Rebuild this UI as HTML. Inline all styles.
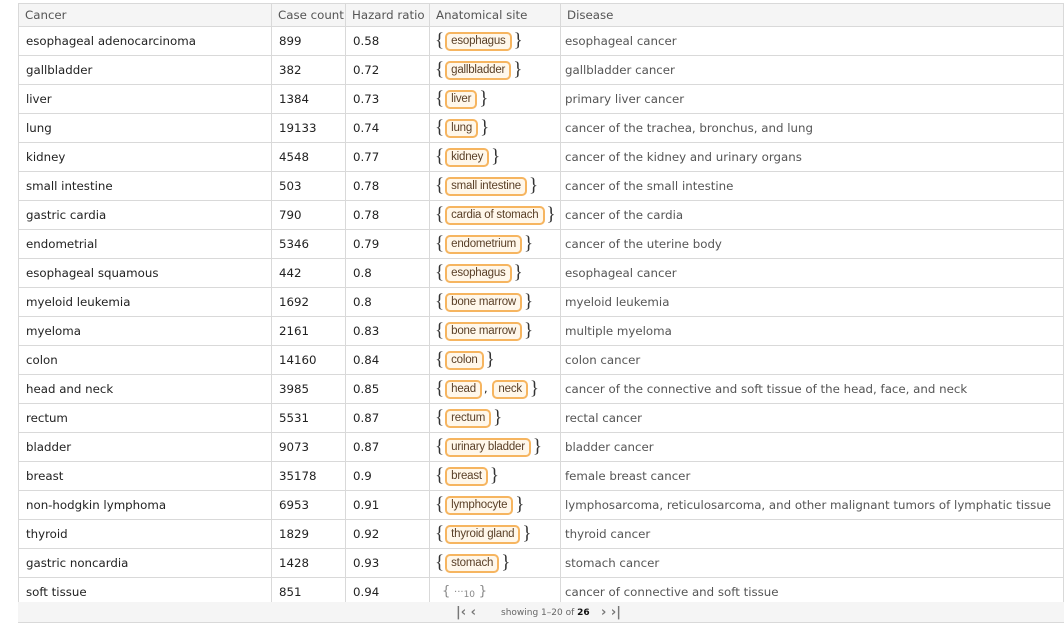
<!DOCTYPE html>
<html><head><meta charset="utf-8"><style>
body{margin:0;width:1064px;height:641px;background:#fff;font-family:"DejaVu Sans","Liberation Sans",sans-serif;overflow:hidden}
table{position:absolute;left:18px;top:3px;border-collapse:collapse;width:1046px;table-layout:fixed}
td,th{border:1px solid #d9d9d9;font-size:11.8px;color:#222;text-align:left;padding:0 0 0 7px;height:28px;white-space:nowrap;overflow:hidden}
th{background:#f5f5f5;color:#555;font-weight:normal;height:22px;padding-left:6px}
td.d{color:#555;padding-left:4px}
td.s{padding-left:5px}
.b{font-size:19px;color:#333;font-family:"Liberation Serif",serif;vertical-align:-2px}
.c{display:inline-block;border:2px solid #f6b560;background:#fff7ea;border-radius:5px;font-family:"Liberation Sans",sans-serif;font-size:11.5px;letter-spacing:-0.2px;color:#5a4028;padding:0 4px;line-height:15px;margin:0 2px 0 1px}
.foot{position:absolute;left:18px;top:602px;width:1046px;height:20px;background:#f5f5f5;border-bottom:1px solid #d9d9d9;font-size:9px;color:#666}
</style></head><body>
<table>
<colgroup><col style="width:253px"><col style="width:74px"><col style="width:84px"><col style="width:131px"><col></colgroup>
<tr><th>Cancer</th><th>Case count</th><th>Hazard ratio</th><th>Anatomical site</th><th>Disease</th></tr>
<tr><td>esophageal adenocarcinoma</td><td>899</td><td>0.58</td><td class="s"><span class="b">{</span><span class="c">esophagus</span><span class="b">}</span></td><td class="d">esophageal cancer</td></tr>
<tr><td>gallbladder</td><td>382</td><td>0.72</td><td class="s"><span class="b">{</span><span class="c">gallbladder</span><span class="b">}</span></td><td class="d">gallbladder cancer</td></tr>
<tr><td>liver</td><td>1384</td><td>0.73</td><td class="s"><span class="b">{</span><span class="c">liver</span><span class="b">}</span></td><td class="d">primary liver cancer</td></tr>
<tr><td>lung</td><td>19133</td><td>0.74</td><td class="s"><span class="b">{</span><span class="c">lung</span><span class="b">}</span></td><td class="d">cancer of the trachea, bronchus, and lung</td></tr>
<tr><td>kidney</td><td>4548</td><td>0.77</td><td class="s"><span class="b">{</span><span class="c">kidney</span><span class="b">}</span></td><td class="d">cancer of the kidney and urinary organs</td></tr>
<tr><td>small intestine</td><td>503</td><td>0.78</td><td class="s"><span class="b">{</span><span class="c">small intestine</span><span class="b">}</span></td><td class="d">cancer of the small intestine</td></tr>
<tr><td>gastric cardia</td><td>790</td><td>0.78</td><td class="s"><span class="b">{</span><span class="c">cardia of stomach</span><span class="b">}</span></td><td class="d">cancer of the cardia</td></tr>
<tr><td>endometrial</td><td>5346</td><td>0.79</td><td class="s"><span class="b">{</span><span class="c">endometrium</span><span class="b">}</span></td><td class="d">cancer of the uterine body</td></tr>
<tr><td>esophageal squamous</td><td>442</td><td>0.8</td><td class="s"><span class="b">{</span><span class="c">esophagus</span><span class="b">}</span></td><td class="d">esophageal cancer</td></tr>
<tr><td>myeloid leukemia</td><td>1692</td><td>0.8</td><td class="s"><span class="b">{</span><span class="c">bone marrow</span><span class="b">}</span></td><td class="d">myeloid leukemia</td></tr>
<tr><td>myeloma</td><td>2161</td><td>0.83</td><td class="s"><span class="b">{</span><span class="c">bone marrow</span><span class="b">}</span></td><td class="d">multiple myeloma</td></tr>
<tr><td>colon</td><td>14160</td><td>0.84</td><td class="s"><span class="b">{</span><span class="c">colon</span><span class="b">}</span></td><td class="d">colon cancer</td></tr>
<tr><td>head and neck</td><td>3985</td><td>0.85</td><td class="s"><span class="b">{</span><span class="c">head</span>, <span class="c">neck</span><span class="b">}</span></td><td class="d">cancer of the connective and soft tissue of the head, face, and neck</td></tr>
<tr><td>rectum</td><td>5531</td><td>0.87</td><td class="s"><span class="b">{</span><span class="c">rectum</span><span class="b">}</span></td><td class="d">rectal cancer</td></tr>
<tr><td>bladder</td><td>9073</td><td>0.87</td><td class="s"><span class="b">{</span><span class="c">urinary bladder</span><span class="b">}</span></td><td class="d">bladder cancer</td></tr>
<tr><td>breast</td><td>35178</td><td>0.9</td><td class="s"><span class="b">{</span><span class="c">breast</span><span class="b">}</span></td><td class="d">female breast cancer</td></tr>
<tr><td>non-hodgkin lymphoma</td><td>6953</td><td>0.91</td><td class="s"><span class="b">{</span><span class="c">lymphocyte</span><span class="b">}</span></td><td class="d">lymphosarcoma, reticulosarcoma, and other malignant tumors of lymphatic tissue</td></tr>
<tr><td>thyroid</td><td>1829</td><td>0.92</td><td class="s"><span class="b">{</span><span class="c">thyroid gland</span><span class="b">}</span></td><td class="d">thyroid cancer</td></tr>
<tr><td>gastric noncardia</td><td>1428</td><td>0.93</td><td class="s"><span class="b">{</span><span class="c">stomach</span><span class="b">}</span></td><td class="d">stomach cancer</td></tr>
<tr><td style="height:22px">soft tissue</td><td>851</td><td>0.94</td><td class="s" style="color:#888;padding-left:12px"><span style="font-size:13px">{</span> <span style="font-size:10px">···<sub style="font-size:9px;vertical-align:-2px">10</sub></span> <span style="font-size:13px">}</span></td><td class="d">cancer of connective and soft tissue</td></tr>
</table>
<div class="foot">
<span style="position:absolute;left:438px;top:3px;font-size:13px;color:#777;font-weight:bold">|‹ ‹</span>
<span style="position:absolute;left:483px;top:6px">showing 1–20 of <b style="color:#111">26</b></span>
<span style="position:absolute;left:583px;top:3px;font-size:13px;color:#777;font-weight:bold">› ›|</span>
</div>
</body></html>
